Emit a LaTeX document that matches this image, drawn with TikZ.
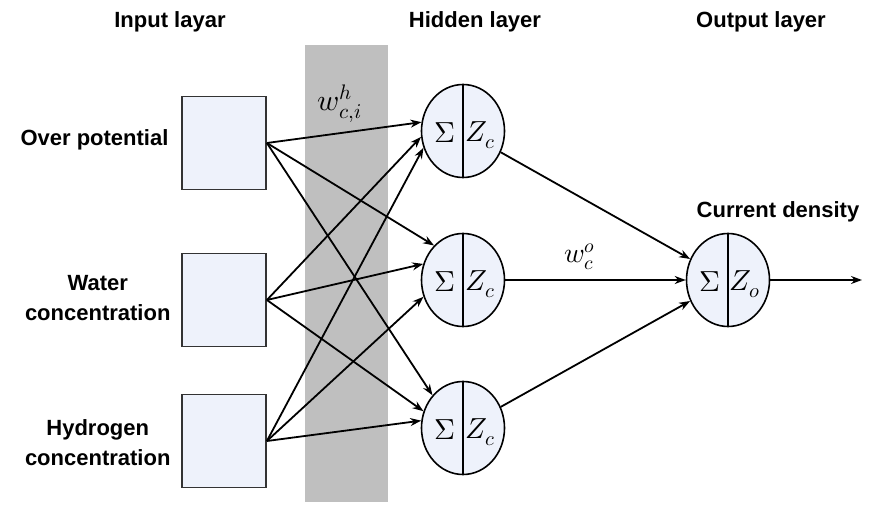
\documentclass[tikz,border=0pt]{standalone}
\usepackage{fontspec}
\usepackage{unicode-math}
\setsansfont{Liberation Sans}
\usetikzlibrary{shapes.geometric,arrows.meta}

\definecolor{cellfill}{HTML}{EEF2FB}
\definecolor{band}{HTML}{BFBFBF}

\tikzset{
  inbox/.style={rectangle, draw=black!80, line width=1.8pt, fill=cellfill, minimum width=84pt, minimum height=93pt, inner sep=0pt},
  neuron/.style={ellipse, draw, line width=1.6pt, fill=cellfill, minimum width=83pt, minimum height=93pt, inner sep=0pt},
  wire/.style={line width=1.8pt, -{Stealth[length=11pt,width=8pt]}},
  title/.style={font=\sffamily\bfseries\fontsize{22}{26}\selectfont},
  lbl/.style={font=\sffamily\bfseries\fontsize{22}{30}\selectfont, align=center, anchor=east},
  sym/.style={font=\fontsize{29}{30}\selectfont, inner sep=0pt},
}

\begin{document}
\begin{tikzpicture}[x=1pt, y=-1pt]

\useasboundingbox (0,0) rectangle (870,505);

\fill[band] (305,45) rectangle (388,502);

% layer titles
\node (tin) at (170,22) [title] {Input layar};
\node (thid) at (475,22) [title] {Hidden layer};
\node (tout) at (761,22) [title] {Output layer};

% input layer
\node (in1) at (224,143) [inbox] {};
\node (in2) at (224,300) [inbox] {};
\node (in3) at (224,441) [inbox] {};
\node (l1) at (172,140) [lbl] {Over potential};
\node (l2) at (174,298) [lbl] {Water\\concentration};
\node (l3) at (174,443) [lbl] {Hydrogen\\concentration};

% hidden layer
\node (h1) at (463,131) [neuron] {};
\node (h2) at (463,280) [neuron] {};
\node (h3) at (463,428) [neuron] {};
\draw[line width=1.6pt] (h1.north) -- (h1.south);
\draw[line width=1.6pt] (h2.north) -- (h2.south);
\draw[line width=1.6pt] (h3.north) -- (h3.south);
\node (s1) at ([xshift=-18pt, yshift=-2pt]h1.center) [sym] {$\Sigma$};
\node (s2) at ([xshift=-18pt, yshift=-2pt]h2.center) [sym] {$\Sigma$};
\node (s3) at ([xshift=-18pt, yshift=-2pt]h3.center) [sym] {$\Sigma$};
\node (z1) at ([xshift=17pt, yshift=-4pt]h1.center) [sym] {$Z_c$};
\node (z2) at ([xshift=17pt, yshift=-4pt]h2.center) [sym] {$Z_c$};
\node (z3) at ([xshift=17pt, yshift=-4pt]h3.center) [sym] {$Z_c$};

% output layer
\node (out) at (728,280) [neuron] {};
\draw[line width=1.6pt] (out.north) -- (out.south);
\node (so) at ([xshift=-18pt, yshift=-2pt]out.center) [sym] {$\Sigma$};
\node (zo) at ([xshift=17pt, yshift=-4pt]out.center) [sym] {$Z_o$};
\node (lo) at (778,212) [title] {Current density};
\coordinate (end) at (862,280);

% input -> hidden
\draw[wire] (in1.east) -- (h1.168);
\draw[wire] (in2.east) -- (h1.188);
\draw[wire] (in3.east) -- (h1.203);
\draw[wire] (in1.east) -- (h2.130);
\draw[wire] (in2.east) -- (h2.158);
\draw[wire] (in3.east) -- (h2.203);
\draw[wire] (in1.east) -- (h3.133);
\draw[wire] (in2.east) -- (h3.157);
\draw[wire] (in3.east) -- (h3.170);

% hidden -> output
\draw[wire] (h1) -- (out.151);
\draw[wire] (h2) -- (out.180);
\draw[wire] (h3) -- (out.209);
\draw[wire] (out.east) -- (end);

% weights
\node (wh) at (340,104) [font=\fontsize{30}{32}\selectfont] {$w^{h}_{c,i}$};
\node (wo) at (580,257) [font=\fontsize{28}{30}\selectfont] {$w^{o}_{c}$};

\end{tikzpicture}
\end{document}
